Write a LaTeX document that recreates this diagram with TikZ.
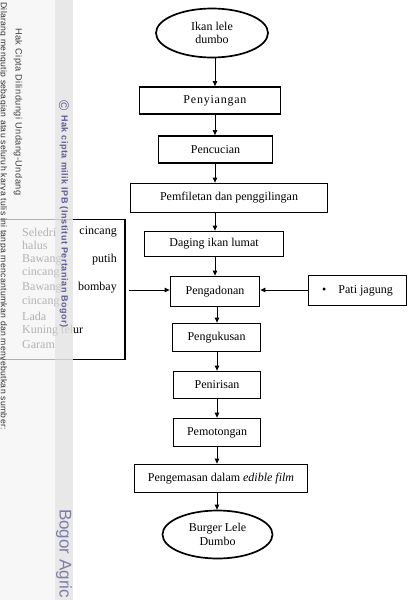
\documentclass[tikz,border=0pt]{standalone}
\usepackage{fontspec}
\setmainfont{Liberation Serif}
\newfontfamily\wmfont{Liberation Sans}
\usetikzlibrary{shapes.geometric,arrows.meta}
\definecolor{wmblue}{RGB}{92,92,150}
\definecolor{wmlight}{RGB}{125,125,165}
\begin{document}
\begin{tikzpicture}[x=1pt,y=-1pt,
  txt/.style={font=\fontsize{12}{14}\selectfont},
  box/.style={draw,line width=1.8pt,inner sep=0pt,txt},
  oval/.style={draw,ellipse,line width=1.7pt,inner sep=0pt,align=center,
    font=\fontsize{12}{13.5}\selectfont},
  arr/.style={-{Triangle[length=5pt,width=4.5pt]},line width=0.8pt},
  lw/.style={txt,inner sep=0pt,anchor=west},
  rw/.style={txt,inner sep=0pt,anchor=east},
  wm/.style={rotate=-90,inner sep=0pt}]
\useasboundingbox (0,0) rectangle (411,600);
\fill[white] (0,0) rectangle (411,600);
% main column
\node[oval,minimum width=112,minimum height=49] (e1) at (212,33) {Ikan lele\\dumbo};
\node[box,minimum width=141,minimum height=27] (p1) at (210,100.5) {\hspace*{10pt}\addfontfeature{LetterSpace=6.5}Penyiangan};
\node[box,minimum width=114,minimum height=27] (p2) at (215.5,149.5) {Pencucian};
\node[box,minimum width=197,minimum height=29] (p3) at (229,198) {Pemfiletan dan penggilingan};
\node[box,minimum width=139,minimum height=25] (p4) at (214,244) {Daging ikan lumat};
\node[box,minimum width=89,minimum height=30] (p5) at (215,291.5) {Pengadonan};
\node[box,minimum width=98,minimum height=30] (pj) at (357.5,290.5) {\textbullet\hspace{12pt}Pati jagung\hspace{9pt}};
\node[box,minimum width=88,minimum height=28] (p6) at (216.5,337.5) {Pengukusan};
\node[box,minimum width=87,minimum height=27] (p7) at (217,385) {Penirisan};
\node[box,minimum width=87,minimum height=28] (p8) at (217,432.5) {Pemotongan};
\node[box,minimum width=173,minimum height=28] (p9) at (221,478.5) {Pengemasan dalam \textit{edible film}};
\node[oval,minimum width=110,minimum height=48] (e2) at (217.5,534.5) {Burger Lele\\Dumbo};
% left ingredients box
\node[draw,line width=1.8pt,minimum width=131,minimum height=140,anchor=north east,inner sep=0pt] (lb) at (126,218.5) {};
\node[lw] (l1a) at (22,232) {Seledri};   \node[rw] (l1b) at (117,232) {cincang};
\node[lw] (l2a) at (22,245.5) {halus};
\node[lw] (l3a) at (22,259.5) {Bawang};  \node[rw] (l3b) at (117,259.5) {putih};
\node[lw] (l4a) at (22,273) {cincang};
\node[lw] (l5a) at (22,288) {Bawang};   \node[rw] (l5b) at (117,288) {bombay};
\node[lw] (l6a) at (22,301.5) {cincang};
\node[lw] (l7a) at (22,316) {Lada};
\node[lw] (l8a) at (22,331) {Kuning telur};
\node[lw] (l9a) at (22,345) {Garam};
% connectors
\coordinate (ax) at (215,0);
\coordinate (bx) at (217,0);
\draw[arr] (ax |- e1.south) -- (ax |- p1.north);
\draw[arr] (ax |- p1.south) -- (ax |- p2.north);
\draw[arr] (ax |- p2.south) -- (ax |- p3.north);
\draw[arr] (ax |- p3.south) -- (ax |- p4.north);
\draw[arr] (ax |- p4.south) -- (ax |- p5.north);
\draw[arr] (bx |- p5.south) -- (bx |- p6.north);
\draw[arr] (bx |- p6.south) -- (bx |- p7.north);
\draw[arr] (bx |- p7.south) -- (bx |- p8.north);
\draw[arr] (bx |- p8.south) -- (bx |- p9.north);
\draw[arr] (bx |- p9.south) -- (bx |- e2.north);
\coordinate (cy) at (0,290);
\draw[arr] ([xshift=3pt]lb.east |- cy) -- (p5.west |- cy);
\draw[arr] (pj.west |- cy) -- (p5.east |- cy);
% watermark overlay
\fill[black!4,fill opacity=0.72] (0,0) rectangle (55,600);
\fill[black!10,fill opacity=0.88] (55,0) rectangle (73,600);
\node[wm,anchor=east,font=\wmfont\fontsize{8.6}{9}\selectfont\addfontfeature{LetterSpace=4},text=black!80] (w1) at (3,430)
  {Dilarang mengutip sebagian atau seluruh karya tulis ini tanpa mencantumkan dan menyebutkan sumber:};
\node[wm,anchor=west,font=\wmfont\fontsize{9.2}{10}\selectfont\addfontfeature{LetterSpace=5},text=black!75] (w2) at (18,28)
  {Hak Cipta Dilindungi Undang-Undang};
\node[wm,font=\wmfont\fontsize{14}{14}\selectfont,text=wmblue] (w3) at (64,106) {©};
\node[wm,anchor=west,font=\wmfont\bfseries\fontsize{9}{10}\selectfont\addfontfeature{LetterSpace=6},text=wmblue] (w4) at (64,115)
  {Hak cipta milik IPB (Institut Pertanian Bogor)};
\node[wm,anchor=west,font=\wmfont\fontsize{17}{18}\selectfont,text=wmlight] (w5) at (64,509)
  {Bogor Agric};
\end{tikzpicture}
\end{document}
